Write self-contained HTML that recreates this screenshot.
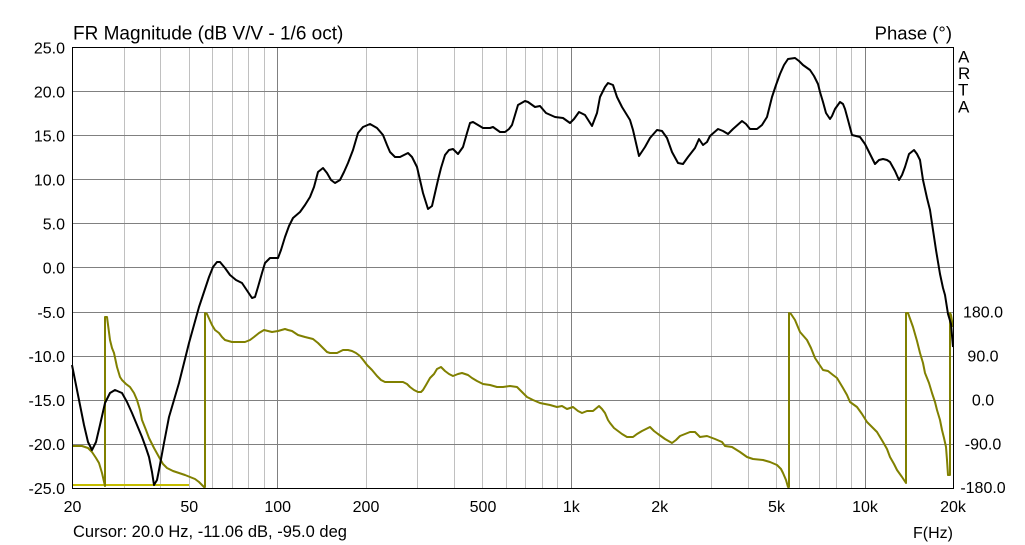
<!DOCTYPE html>
<html>
<head>
<meta charset="utf-8">
<style>
  html, body { margin: 0; padding: 0; background: #ffffff; }
  svg { display: block; }
  text { font-family: "Liberation Sans", Arial, sans-serif; fill: #000; }
</style>
</head>
<body>
<svg width="1025" height="545" viewBox="0 0 1025 545" xmlns="http://www.w3.org/2000/svg">
  <rect x="0" y="0" width="1025" height="545" fill="#ffffff"/>

  <!-- minor vertical gridlines -->
  <g stroke="#c0c0c0" stroke-width="1">
    <line x1="124.5" y1="47" x2="124.5" y2="488"/>
    <line x1="160.5" y1="47" x2="160.5" y2="488"/>
    <line x1="189.5" y1="47" x2="189.5" y2="488"/>
    <line x1="212.5" y1="47" x2="212.5" y2="488"/>
    <line x1="232.5" y1="47" x2="232.5" y2="488"/>
    <line x1="248.5" y1="47" x2="248.5" y2="488"/>
    <line x1="264.5" y1="47" x2="264.5" y2="488"/>
    <line x1="366.5" y1="47" x2="366.5" y2="488"/>
    <line x1="417.5" y1="47" x2="417.5" y2="488"/>
    <line x1="454.5" y1="47" x2="454.5" y2="488"/>
    <line x1="482.5" y1="47" x2="482.5" y2="488"/>
    <line x1="506.5" y1="47" x2="506.5" y2="488"/>
    <line x1="525.5" y1="47" x2="525.5" y2="488"/>
    <line x1="542.5" y1="47" x2="542.5" y2="488"/>
    <line x1="557.5" y1="47" x2="557.5" y2="488"/>
    <line x1="659.5" y1="47" x2="659.5" y2="488"/>
    <line x1="711.5" y1="47" x2="711.5" y2="488"/>
    <line x1="748.5" y1="47" x2="748.5" y2="488"/>
    <line x1="776.5" y1="47" x2="776.5" y2="488"/>
    <line x1="799.5" y1="47" x2="799.5" y2="488"/>
    <line x1="819.5" y1="47" x2="819.5" y2="488"/>
    <line x1="836.5" y1="47" x2="836.5" y2="488"/>
    <line x1="851.5" y1="47" x2="851.5" y2="488"/>
  </g>
  <!-- major gridlines -->
  <g stroke="#808080" stroke-width="1">
    <line x1="277.5" y1="47" x2="277.5" y2="488"/>
    <line x1="571.5" y1="47" x2="571.5" y2="488"/>
    <line x1="865.5" y1="47" x2="865.5" y2="488"/>
    <line x1="72" y1="91.5" x2="953" y2="91.5"/>
    <line x1="72" y1="135.5" x2="953" y2="135.5"/>
    <line x1="72" y1="179.5" x2="953" y2="179.5"/>
    <line x1="72" y1="223.5" x2="953" y2="223.5"/>
    <line x1="72" y1="267.5" x2="953" y2="267.5"/>
    <line x1="72" y1="312.5" x2="953" y2="312.5"/>
    <line x1="72" y1="356.5" x2="953" y2="356.5"/>
    <line x1="72" y1="400.5" x2="953" y2="400.5"/>
    <line x1="72" y1="444.5" x2="953" y2="444.5"/>
  </g>

  <!-- yellow marker line -->
  <line x1="72" y1="485" x2="189" y2="485" stroke="#c4bc00" stroke-width="2"/>

  <!-- phase curve -->
  <polyline fill="none" stroke="#808000" stroke-width="2" stroke-linejoin="round" points="
72,446 82,446 88,448 92,452 96,458 99,463 102,473 105,486 105,317 107,317 110,340 112,348 114,353 117,367 120,377 122,380 126,384 130,387 134,393 137,400 140,410 142,420 146,430 149,438 154,448 159,457 163,464 167,468 173,471 179,473 185,475 190,477 195,479 199,482 202,485 204,487 205,487 205,313 207,314 212,325 215,330 219,333 222,337 225,340 232,342 239,342 245,342 250,340 254,337 259,333 264,330 268,331 272,332 278,331 285,329 288,330 292,331 298,335 305,337 313,339 318,343 323,348 327,352 330,353 337,353 343,350 348,350 352,351 356,353 360,356 364,361 367,365 372,370 377,376 381,380 385,382 393,382 403,382 407,384 410,387 414,390 418,392 421,392 423,390 426,385 430,378 434,374 437,369 441,367 445,371 449,374 453,376 458,374 462,373 468,375 472,378 477,381 483,384 490,385 497,387 503,387 510,386 517,387 522,392 527,397 533,400 540,403 550,405 557,407 562,406 567,409 573,407 578,411 582,413 587,411 593,411 599,406 602,409 605,413 608,420 610,423 614,428 618,431 622,434 627,437 633,437 637,434 642,431 646,429 650,427 654,431 658,434 665,439 672,443 676,440 680,436 685,434 690,432 695,432 700,437 707,436 715,439 722,442 725,446 732,447 740,452 747,457 753,459 763,460 770,462 777,465 781,469 783,473 786,480 788,487 789,487 789,313 791,314 795,320 800,332 807,340 811,348 815,358 819,364 823,370 828,371 833,375 837,378 840,383 843,388 847,395 850,402 857,407 862,414 867,422 872,427 877,432 883,442 887,449 890,457 894,464 897,470 902,477 906,483 906,313 908,313 913,327 917,341 920,353 923,363 925,373 929,383 932,393 935,402 937,410 940,420 942,430 944,438 946,447 947,460 948,475 950,475 950,313 951,315 953,327"/>

  <!-- magnitude curve -->
  <polyline fill="none" stroke="#000000" stroke-width="2" stroke-linejoin="round" points="
72,365 76,385 80,405 84,425 88,442 92,450 96,442 100,425 105,403 110,393 115,390 122,393 127,402 132,413 137,425 142,437 146,448 149,457 152,472 154,485 157,480 159,470 164,443 169,417 174,400 179,383 184,363 189,343 194,325 199,307 204,292 209,277 213,267 217,262 220,262 225,268 230,275 236,280 242,283 248,292 252,298 255,297 258,287 262,273 265,263 270,258 278,258 281,250 285,237 289,226 293,218 300,212 305,205 310,197 314,187 318,172 323,168 327,173 331,180 335,183 340,180 344,172 348,163 353,150 358,133 363,127 370,124 377,128 383,135 387,145 390,152 395,157 400,157 404,155 408,153 412,157 417,167 420,180 423,193 428,209 432,206 435,193 438,180 441,168 445,155 449,150 453,149 458,154 463,147 467,133 470,123 473,122 478,125 483,128 490,128 493,127 500,132 505,132 509,129 512,125 518,105 525,101 528,102 535,107 540,106 546,113 555,117 563,118 570,123 574,119 579,112 585,115 592,126 597,113 600,97 605,87 608,83 613,85 617,97 622,107 630,120 633,130 636,143 639,156 645,147 650,138 657,130 662,131 667,138 672,152 678,163 683,164 688,157 695,148 699,139 703,145 707,142 710,136 718,129 723,131 728,134 733,129 742,121 746,124 750,129 757,129 762,125 767,117 772,97 776,85 780,74 784,65 788,59 795,58 799,61 803,65 810,70 814,76 818,84 820,92 823,102 826,113 830,119 832,116 835,109 840,102 843,104 845,109 848,120 852,135 856,136 860,137 865,144 870,154 875,164 879,160 883,159 887,160 890,162 895,171 899,180 902,175 905,167 909,154 914,150 917,154 920,160 923,180 927,198 930,210 933,230 936,250 940,274 943,288 945,295 948,314 951,324 953,347"/>

  <!-- plot border -->
  <rect x="72.5" y="47.5" width="881" height="441" fill="none" stroke="#000" stroke-width="1"/>

  <!-- titles -->
  <text x="73" y="39.5" font-size="19">FR Magnitude (dB V/V - 1/6 oct)</text>
  <text x="952" y="39.5" font-size="18.5" text-anchor="end">Phase (°)</text>
  <g font-size="17">
    <text x="958" y="62.3">A</text>
    <text x="958" y="79">R</text>
    <text x="958" y="95.7">T</text>
    <text x="958" y="112.5">A</text>
  </g>

  <!-- left axis labels -->
  <g font-size="16" text-anchor="end">
    <text x="65" y="53.5">25.0</text>
    <text x="65" y="97.5">20.0</text>
    <text x="65" y="141.5">15.0</text>
    <text x="65" y="185.5">10.0</text>
    <text x="65" y="229.5">5.0</text>
    <text x="65" y="273.5">0.0</text>
    <text x="65" y="318">-5.0</text>
    <text x="65" y="362">-10.0</text>
    <text x="65" y="406">-15.0</text>
    <text x="65" y="450">-20.0</text>
    <text x="65" y="494">-25.0</text>
  </g>

  <!-- right axis labels -->
  <g font-size="16" text-anchor="middle">
    <text x="983" y="317.5">180.0</text>
    <text x="983" y="361.5">90.0</text>
    <text x="983" y="405.5">0.0</text>
    <text x="983" y="449.5">-90.0</text>
    <text x="983" y="493">-180.0</text>
  </g>

  <!-- x axis labels -->
  <g font-size="16" text-anchor="middle">
    <text x="72.5" y="512">20</text>
    <text x="189.3" y="512">50</text>
    <text x="277.7" y="512">100</text>
    <text x="366" y="512">200</text>
    <text x="483" y="512">500</text>
    <text x="571.3" y="512">1k</text>
    <text x="659.7" y="512">2k</text>
    <text x="776.5" y="512">5k</text>
    <text x="865" y="512">10k</text>
    <text x="953" y="512">20k</text>
  </g>

  <text x="73" y="537" font-size="16.5">Cursor: 20.0 Hz, -11.06 dB, -95.0 deg</text>
  <text x="953" y="538" font-size="16" text-anchor="end">F(Hz)</text>
</svg>
</body>
</html>
